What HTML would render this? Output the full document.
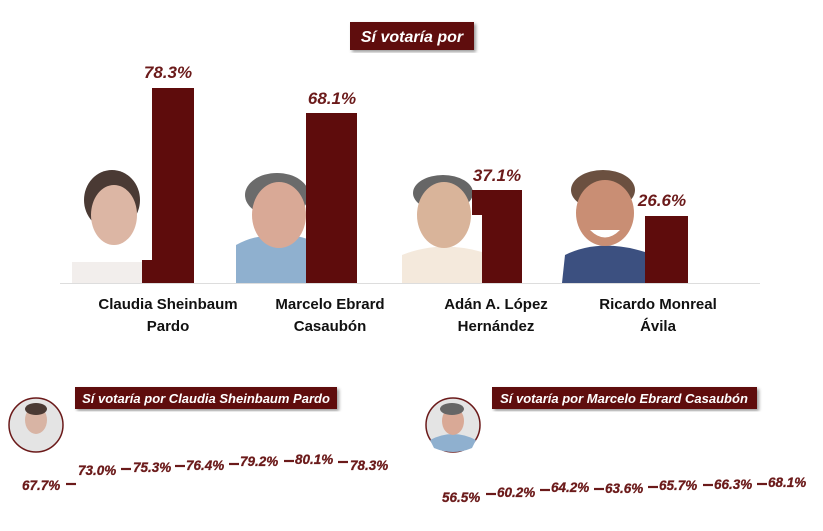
<!DOCTYPE html>
<html><head><meta charset="utf-8"><style>
html,body{margin:0;padding:0;background:#fff;width:823px;height:531px;overflow:hidden}
svg text{font-family:"Liberation Sans",sans-serif;font-weight:bold}
.v{font-style:italic;fill:#6b1a1a;font-size:17px}
.n{fill:#111;font-size:15px;text-anchor:middle}
.s{font-style:italic;fill:#6b1a1a;font-size:13.5px;stroke:#6b1a1a;stroke-width:0.3}
.d{stroke:#6b1a1a;stroke-width:2.2}
</style></head><body>
<svg width="823" height="531" viewBox="0 0 823 531">
<defs><filter id="sh"><feDropShadow dx="2" dy="2" stdDeviation="1.5" flood-opacity="0.4"/></filter></defs>
<rect x="350" y="22" width="124" height="28" fill="#5e0c0c" filter="url(#sh)"/>
<text x="412" y="42" fill="#fff" font-size="16" font-style="italic" text-anchor="middle">Sí votaría por</text>
<line x1="60" y1="283.5" x2="760" y2="283.5" stroke="#ddd" stroke-width="1"/>
<g>
<rect x="72" y="262" width="84" height="21" fill="#f2eeec"/>
<ellipse cx="112" cy="200" rx="28" ry="30" fill="#4a3a34"/>
<ellipse cx="114" cy="215" rx="23" ry="30" fill="#dcb6a4"/>
</g>
<g>
<path d="M236 283 L236 245 Q260 232 280 238 Q300 232 318 245 L318 283Z" fill="#8fb0cf"/>
<ellipse cx="277" cy="195" rx="32" ry="22" fill="#6b6b6b"/>
<ellipse cx="279" cy="215" rx="27" ry="33" fill="#d9a996"/>
</g>
<g>
<path d="M402 283 L402 255 Q440 240 482 252 L482 283Z" fill="#f4e9dc"/>
<ellipse cx="443" cy="193" rx="30" ry="18" fill="#666"/>
<ellipse cx="444" cy="215" rx="27" ry="33" fill="#d9b49a"/>
</g>
<g>
<path d="M562 283 L565 255 Q600 238 645 252 L645 283Z" fill="#3c5080"/>
<ellipse cx="603" cy="190" rx="32" ry="20" fill="#6b5040"/>
<ellipse cx="605" cy="213" rx="29" ry="33" fill="#c98e74"/>
<path d="M590 230 Q605 245 620 230Z" fill="#fff"/>
</g>
<rect x="152" y="88" width="42" height="195" fill="#5e0c0c"/>
<rect x="142" y="260" width="10" height="23" fill="#5e0c0c"/>
<rect x="306" y="113" width="51" height="170" fill="#5e0c0c"/>
<rect x="482" y="190" width="40" height="93" fill="#5e0c0c"/>
<rect x="472" y="190" width="10" height="25" fill="#5e0c0c"/>
<rect x="645" y="216" width="43" height="67" fill="#5e0c0c"/>
<text class="v" x="168" y="78" text-anchor="middle">78.3%</text>
<text class="v" x="332" y="104" text-anchor="middle">68.1%</text>
<text class="v" x="497" y="181" text-anchor="middle">37.1%</text>
<text class="v" x="662" y="206" text-anchor="middle">26.6%</text>
<text class="n" x="168" y="309">Claudia Sheinbaum</text>
<text class="n" x="168" y="331">Pardo</text>
<text class="n" x="330" y="309">Marcelo Ebrard</text>
<text class="n" x="330" y="331">Casaubón</text>
<text class="n" x="496" y="309">Adán A. López</text>
<text class="n" x="496" y="331">Hernández</text>
<text class="n" x="658" y="309">Ricardo Monreal</text>
<text class="n" x="658" y="331">Ávila</text>
<rect x="75" y="387" width="262" height="22" fill="#5e0c0c" filter="url(#sh)"/>
<text x="206" y="403" fill="#fff" font-size="13" font-style="italic" text-anchor="middle">Sí votaría por Claudia Sheinbaum Pardo</text>
<circle cx="36" cy="425" r="27" fill="#e4e4e4" stroke="#6b1a1a" stroke-width="1.5"/>
<ellipse cx="36" cy="420" rx="11" ry="14" fill="#d8b4a4"/>
<ellipse cx="36" cy="409" rx="11" ry="6" fill="#4a3a34"/>
<text class="s" x="22" y="490">67.7%</text><line class="d" x1="66" y1="484" x2="76" y2="484"/>
<text class="s" x="78" y="475">73.0%</text><line class="d" x1="121" y1="469" x2="131" y2="469"/>
<text class="s" x="133" y="472">75.3%</text><line class="d" x1="175" y1="466" x2="185" y2="466"/>
<text class="s" x="186" y="470">76.4%</text><line class="d" x1="229" y1="464" x2="239" y2="464"/>
<text class="s" x="240" y="466">79.2%</text><line class="d" x1="284" y1="461" x2="294" y2="461"/>
<text class="s" x="295" y="464">80.1%</text><line class="d" x1="338" y1="462" x2="348" y2="462"/>
<text class="s" x="350" y="470">78.3%</text>
<rect x="492" y="387" width="265" height="22" fill="#5e0c0c" filter="url(#sh)"/>
<text x="624" y="403" fill="#fff" font-size="13" font-style="italic" text-anchor="middle">Sí votaría por Marcelo Ebrard Casaubón</text>
<circle cx="453" cy="425" r="27" fill="#e4e4e4" stroke="#6b1a1a" stroke-width="1.5"/>
<path d="M430 440 Q453 428 476 440 L472 448 Q453 456 434 448Z" fill="#8fb0cf"/>
<ellipse cx="453" cy="421" rx="11" ry="14" fill="#d9a996"/>
<ellipse cx="452" cy="409" rx="12" ry="6" fill="#666"/>
<text class="s" x="442" y="502">56.5%</text><line class="d" x1="486" y1="494" x2="496" y2="494"/>
<text class="s" x="497" y="497">60.2%</text><line class="d" x1="540" y1="490" x2="550" y2="490"/>
<text class="s" x="551" y="492">64.2%</text><line class="d" x1="594" y1="489" x2="604" y2="489"/>
<text class="s" x="605" y="493">63.6%</text><line class="d" x1="648" y1="487" x2="658" y2="487"/>
<text class="s" x="659" y="490">65.7%</text><line class="d" x1="703" y1="485" x2="713" y2="485"/>
<text class="s" x="714" y="489">66.3%</text><line class="d" x1="757" y1="484" x2="767" y2="484"/>
<text class="s" x="768" y="487">68.1%</text>
</svg>
</body></html>
